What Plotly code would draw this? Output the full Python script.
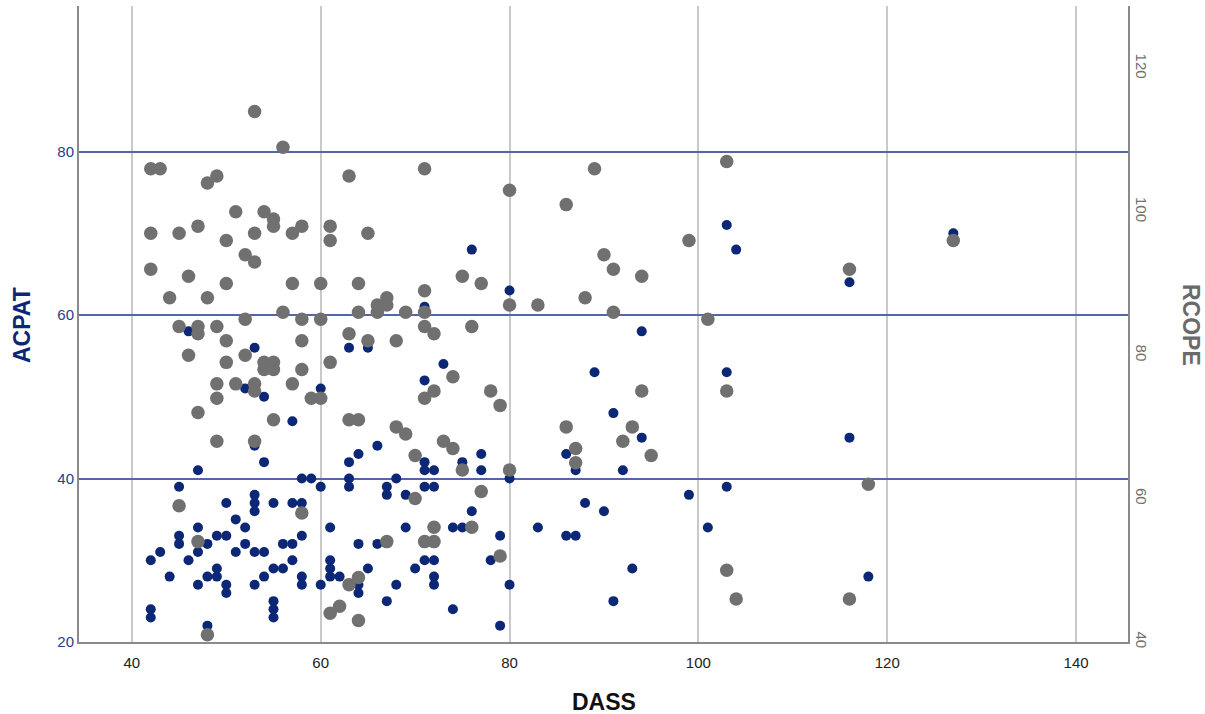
import plotly.graph_objects as go

# ACPAT (left axis) vs DASS
acpat_dass = [42, 43, 42, 42, 44, 45, 45, 45, 46, 47, 47, 47, 48, 48, 48, 49, 49, 49, 50, 50,
              50, 50, 51, 51, 52, 52, 53, 53, 53, 53, 53, 54, 54, 55, 55, 55, 55, 55, 56, 56,
              57, 57, 57, 58, 58, 46, 53, 52, 54, 57, 53, 54, 47, 76, 80, 71, 63, 65, 60, 71,
              73, 66, 64, 63, 71, 71, 72, 75, 77, 77, 86, 87, 80, 58, 59, 63, 63, 60, 68, 67,
              71, 72, 69, 67, 58, 58, 60, 61, 61, 61, 61, 62, 64, 64, 64, 65, 66, 67, 68, 69,
              70, 71, 72, 72, 72, 74, 75, 76, 74, 78, 79, 79, 80, 83, 86, 87, 88, 104, 116, 94,
              89, 103, 91, 94, 116, 92, 103, 99, 90, 101, 93, 91, 127, 103, 118, 53]
acpat = [30, 31, 24, 23, 28, 39, 33, 32, 30, 34, 31, 27, 32, 28, 22, 33, 29, 28, 33, 37,
         27, 26, 35, 31, 34, 32, 38, 37, 36, 31, 27, 31, 28, 37, 29, 25, 24, 23, 32, 29,
         37, 32, 30, 28, 27, 58, 56, 51, 50, 47, 44, 42, 41, 68, 63, 61, 56, 56, 51, 52,
         54, 44, 43, 42, 42, 41, 41, 42, 43, 41, 43, 41, 40, 40, 40, 40, 39, 39, 40, 39,
         39, 39, 38, 38, 37, 33, 27, 34, 30, 29, 28, 28, 32, 27, 26, 29, 32, 25, 27, 34,
         29, 30, 30, 28, 27, 34, 34, 36, 24, 30, 33, 22, 27, 34, 33, 33, 37, 68, 64, 58,
         53, 53, 48, 45, 45, 41, 39, 38, 36, 34, 29, 25, 70, 71, 28, 85]

# RCOPE (right axis) vs DASS
rcope_dass = [53, 56, 42, 43, 49, 48, 51, 54, 55, 55, 47, 42, 45, 50, 53, 57, 58, 63, 71, 80,
              86, 61, 61, 65, 89, 103, 99, 127, 42, 46, 52, 53, 50, 57, 44, 48, 56, 52, 45, 47,
              49, 47, 50, 46, 52, 50, 54, 55, 54, 55, 49, 51, 53, 53, 57, 49, 47, 55, 49, 53,
              60, 64, 75, 77, 67, 66, 67, 71, 80, 83, 64, 66, 69, 71, 58, 60, 71, 72, 76, 63,
              65, 68, 58, 61, 58, 74, 59, 60, 71, 72, 78, 79, 63, 64, 68, 69, 73, 74, 70, 75,
              80, 77, 86, 87, 87, 70, 58, 72, 76, 67, 71, 72, 79, 64, 63, 62, 61, 64, 45, 47,
              48, 90, 91, 94, 88, 91, 101, 116, 94, 103, 93, 92, 95, 118, 103, 104, 116]
rcope = [114, 109, 106, 106, 105, 104, 100, 100, 99, 98, 98, 97, 97, 96, 97, 97, 98, 105, 106, 103,
         101, 98, 96, 97, 106, 107, 96, 96, 92, 91, 94, 93, 90, 90, 88, 88, 86, 85, 84, 84,
         84, 83, 82, 80, 80, 79, 79, 79, 78, 78, 76, 76, 76, 75, 76, 74, 72, 71, 68, 68,
         90, 90, 91, 90, 88, 87, 87, 89, 87, 87, 86, 86, 86, 86, 85, 85, 84, 83, 84, 83,
         82, 82, 82, 79, 78, 77, 74, 74, 74, 75, 75, 73, 71, 71, 70, 69, 68, 67, 66, 64,
         64, 61, 70, 67, 65, 60, 58, 56, 56, 54, 54, 54, 52, 49, 48, 45, 44, 43, 59, 54,
         41, 94, 92, 91, 88, 86, 85, 92, 75, 75, 70, 68, 66, 62, 50, 46, 46]

x_ticks = [40, 60, 80, 100, 120, 140]
left_ticks = [20, 40, 60, 80]
right_ticks = [40, 60, 80, 100, 120]

BLUE = "#0b2776"
GRAY = "#707070"
FONT = "Liberation Sans, Arial, sans-serif"

fig = go.Figure()
fig.add_trace(go.Scatter(x=acpat_dass, y=acpat, mode="markers", name="ACPAT",
                         marker=dict(size=10, color=BLUE, line=dict(width=0)), yaxis="y"))
fig.add_trace(go.Scatter(x=rcope_dass, y=rcope, mode="markers", name="RCOPE",
                         marker=dict(size=13.5, color=GRAY, line=dict(width=0)), yaxis="y2"))

L, R, T, B = 79, 1128, 6, 642
W, H = 1205, 714

def px(xp):
    return (xp - L) / (R - L)

def py(yp):
    return (B - yp) / (B - T)

fig.update_layout(
    width=W, height=H,
    margin=dict(l=L, r=W - R, t=T, b=H - B),
    paper_bgcolor="white", plot_bgcolor="white",
    showlegend=False,
    font=dict(family=FONT),
    xaxis=dict(range=[34.4, 145.5], tickvals=x_ticks, showgrid=True, gridcolor="#c9c9c9",
               gridwidth=1.5, zeroline=False, showline=True, linecolor="#8a8a8a", linewidth=2,
               ticks="", tickfont=dict(size=15, color="#222222"), ticklabelstandoff=6),
    yaxis=dict(range=[20, 97.8], tickvals=left_ticks, showgrid=True, gridcolor="#5467a4",
               gridwidth=1.5, zeroline=False, showline=True, linecolor="#8a8a8a", linewidth=2,
               ticks="", tickfont=dict(size=15, color="#2a3d8c")),
    yaxis2=dict(range=[40, 128.7], tickvals=right_ticks, overlaying="y", side="right",
                showgrid=False, zeroline=False, showline=True, linecolor="#8a8a8a", linewidth=2,
                ticks="", tickangle=90, tickfont=dict(size=15, color="#707070")),
    annotations=[
        dict(text="<b>ACPAT</b>", xref="paper", yref="paper", x=px(22), y=py(325),
             xanchor="center", yanchor="middle", textangle=-90, showarrow=False,
             font=dict(size=23, color="#0b2776", family=FONT)),
        dict(text="<b>RCOPE</b>", xref="paper", yref="paper", x=px(1191), y=py(325),
             xanchor="center", yanchor="middle", textangle=90, showarrow=False,
             font=dict(size=23, color="#6a6a6a", family=FONT)),
        dict(text="<b>DASS</b>", xref="paper", yref="paper", x=px(604), y=py(702),
             xanchor="center", yanchor="middle", showarrow=False,
             font=dict(size=23, color="#111111", family=FONT)),
    ],
)

fig.write_html("out.html")
